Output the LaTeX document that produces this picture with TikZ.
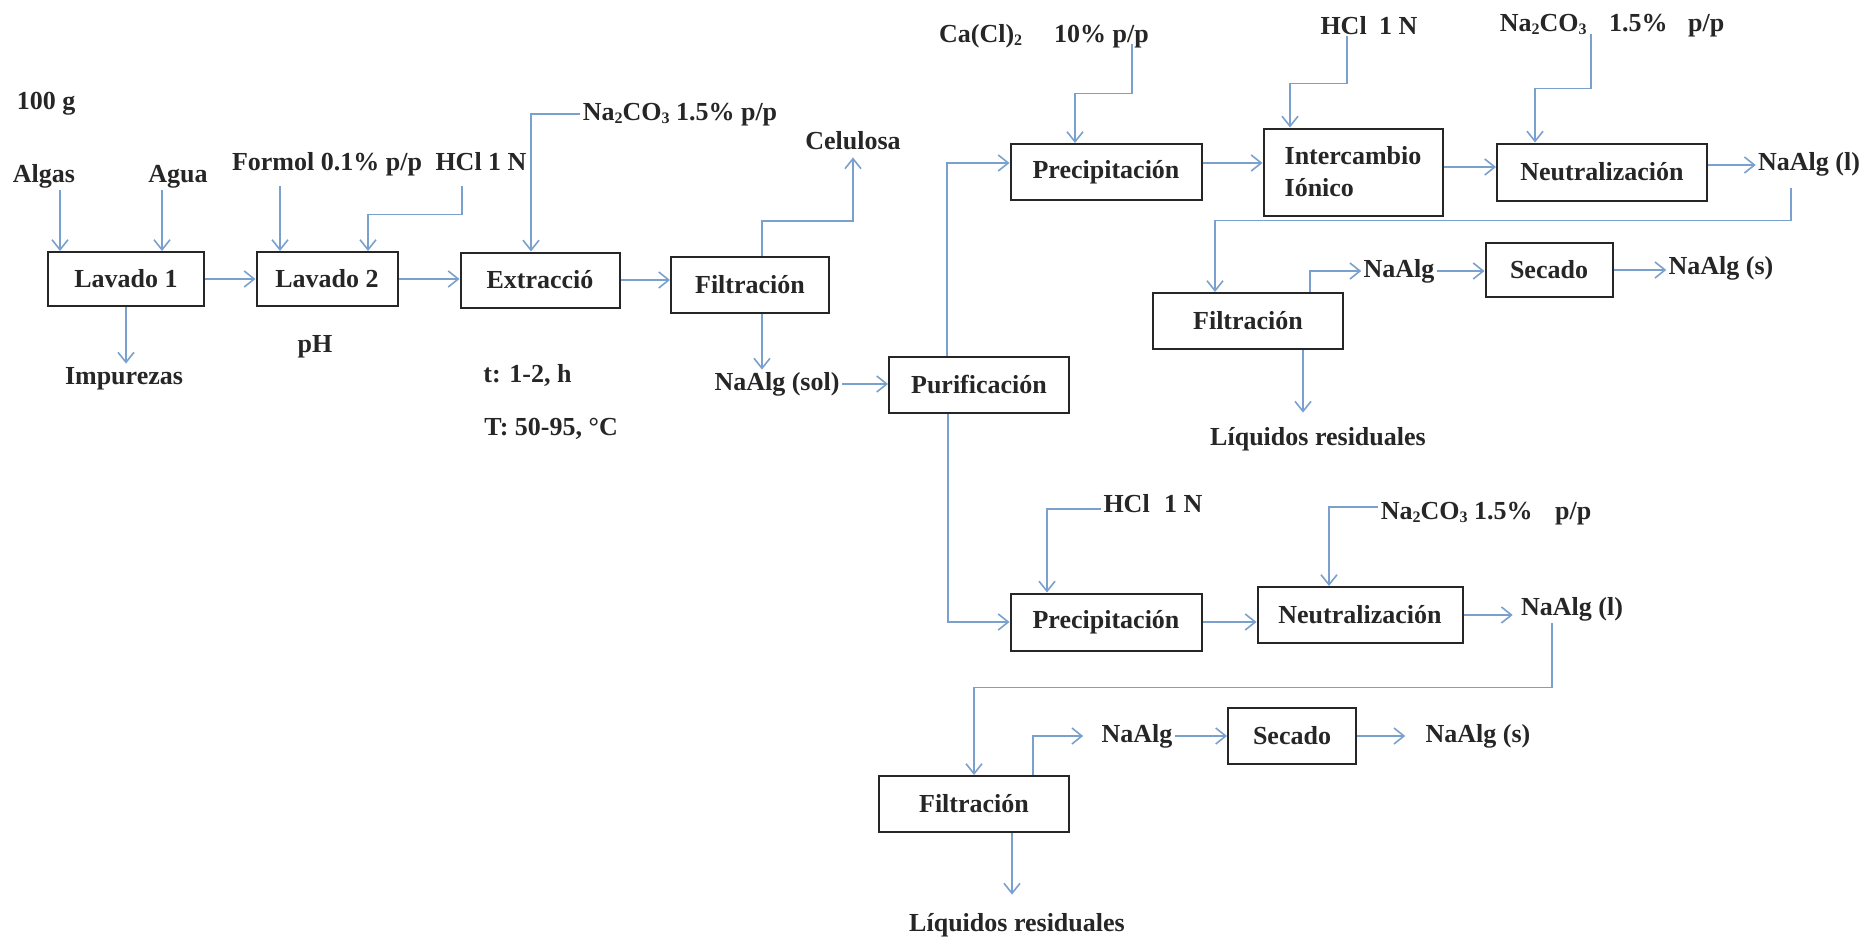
\documentclass[tikz,border=0pt]{standalone}
\usepackage{fontspec}
\setmainfont{Liberation Serif}
\usetikzlibrary{arrows.meta,positioning,calc}
\definecolor{pipe}{RGB}{122,160,206}
\definecolor{ink}{RGB}{38,38,38}
\newcommand{\subs}[1]{\raisebox{-1.5pt}{\fontsize{8}{8}\selectfont #1}}

\begin{document}
\begin{tikzpicture}[x=0.5pt,y=-0.5pt,
    font=\fontsize{13}{16}\selectfont\bfseries,
    unit/.style={draw=ink,line width=1pt,text=ink,minimum height=27pt,inner sep=2pt},
    lbl/.style={inner sep=1pt,text height=9pt,text depth=3pt,text=ink},
    flow/.style={draw=pipe,line width=0.8pt,-{Straight Barb[length=5pt,width=8pt]}}]
  \useasboundingbox (0,0) rectangle (1863,937);

  \node[unit,minimum width=78pt] (lav1) at (126,279) {Lavado 1};
  \node[unit,minimum width=70.5pt] (lav2) at (327,279) {Lavado 2};
  \node[unit,minimum width=79.5pt,minimum height=27.5pt] (ext) at (540,280) {Extracció};
  \node[unit,minimum width=79pt,minimum height=28pt] (filA) at (750,285) {Filtración};
  \node[unit,minimum width=90pt,minimum height=28pt] (pur) at (979,385) {Purificación};
  \node[unit,minimum width=95.5pt,minimum height=28pt] (preA) at (1106,172) {Precipitación};
  \node[unit,minimum width=89.5pt,minimum height=43.5pt,align=left] (inter) at (1353,172) {Intercambio\\Iónico};
  \node[unit,minimum width=105pt,minimum height=28.5pt] (neuA) at (1602,172) {Neutralización};
  \node[unit,minimum width=95pt,minimum height=28pt] (filB) at (1248,321) {Filtración};
  \node[unit,minimum width=63.5pt] (secA) at (1549,270) {Secado};
  \node[unit,minimum width=95.5pt,minimum height=28.5pt] (preB) at (1106,622) {Precipitación};
  \node[unit,minimum width=102.5pt,minimum height=28pt] (neuB) at (1360,615) {Neutralización};
  \node[unit,minimum width=95pt,minimum height=28pt] (filC) at (974,804) {Filtración};
  \node[unit,minimum width=64pt,minimum height=28pt] (secB) at (1292,736) {Secado};

  \node[lbl] (g100) at (46,103) {100 g};
  \node[lbl] (algas) at (44,176) {Algas};
  \node[lbl] (agua) at (178,176) {Agua};
  \node[lbl] (formol) at (327,164) {Formol 0.1\% p/p};
  \node[lbl] (hclA) at (481,164) {HCl 1 N};
  \node[lbl] (imp) at (124,378) {Impurezas};
  \node[lbl] (ph) at (315,346) {pH};
  \node[lbl] (naA) at (680,114) {Na\subs{2}CO\subs{3} 1.5\% p/p};
  \node[lbl] (cel) at (853,143) {Celulosa};
  \node[lbl,anchor=west] (tt) at (481,376) {t: 1-2, h};
  \node[lbl,anchor=west] (TT) at (482,429) {T: 50-95, °C};
  \node[lbl] (nasol) at (777,384) {NaAlg (sol)};
  \node[lbl] (ca) at (1044,36) {Ca(Cl)\subs{2}\hspace{16pt}10\% p/p};
  \node[lbl] (hclB) at (1369,28) {HCl\hspace{3pt} 1 N};
  \node[lbl] (naB) at (1612,26) {Na\subs{2}CO\subs{3}\hspace{8pt} 1.5\%\hspace{7pt} p/p};
  \node[lbl] (nalA) at (1809,164) {NaAlg (l)};
  \node[lbl] (nalgA) at (1399,271) {NaAlg};
  \node[lbl] (nasA) at (1721,268) {NaAlg (s)};
  \node[lbl] (liqA) at (1318,439) {Líquidos residuales};
  \node[lbl] (hclC) at (1153,506) {HCl\hspace{4pt} 1 N};
  \node[lbl] (naC) at (1486,513) {Na\subs{2}CO\subs{3} 1.5\%\hspace{8pt} p/p};
  \node[lbl] (nalB) at (1572,609) {NaAlg (l)};
  \node[lbl] (nalgB) at (1137,736) {NaAlg};
  \node[lbl] (nasB) at (1478,736) {NaAlg (s)};
  \node[lbl] (liqB) at (1017,925) {Líquidos residuales};

  \draw[flow] ([xshift=8pt]algas.south) -- ([xshift=8pt]algas.south |- lav1.north);
  \draw[flow] ([xshift=-8pt]agua.south) -- ([xshift=-8pt]agua.south |- lav1.north);
  \draw[flow] ([xshift=-23.5pt,yshift=-4pt]formol.south) -- ([xshift=-23.5pt]formol.south |- lav2.north);
  \draw[flow] ([xshift=-9.5pt,yshift=-4pt]hclA.south) -- ++(0,28) -| ([xshift=20.5pt]lav2.north);
  \draw[flow] (lav1.east) -- (lav2.west);
  \draw[flow] (lav2.east) -- (lav2.east -| ext.west);
  \draw[flow] (lav1.south) -- (lav1.south |- imp.north);
  \draw[flow] (naA.west) -| ([xshift=-4.5pt]ext.north);
  \draw[flow] (ext.east) -- (ext.east -| filA.west);
  \draw[flow] ([xshift=6pt]filA.north) -- ++(0,-35) -| (cel.south);
  \draw[flow] ([xshift=6pt]filA.south) -- ([xshift=6pt]filA.south |- nasol.north);
  \draw[flow] (nasol.east) -- (nasol.east -| pur.west);

  \draw[flow] ([xshift=-16pt]pur.north) |- ([yshift=4.5pt]preA.west);
  \draw[flow] ([xshift=44pt,yshift=3pt]ca.south) -- ++(0,49) -| ([xshift=-15.5pt]preA.north);
  \draw[flow] ([yshift=4.5pt]preA.east) -- ([yshift=4.5pt]preA.east -| inter.west);
  \draw[flow] ([xshift=-11pt,yshift=3pt]hclB.south) -- ++(0,47) -| ([xshift=-31.5pt]inter.north);
  \draw[flow] ([yshift=2.5pt]inter.east) -- ([yshift=2.5pt]inter.east -| neuA.west);
  \draw[flow] ([xshift=-10.5pt,yshift=3pt]naB.south) -- ++(0,54) -| ([xshift=-33.5pt]neuA.north);
  \draw[flow] ([yshift=3.5pt]neuA.east) -- ([yshift=3.5pt]neuA.east -| nalA.west);
  \draw[flow] ([xshift=-9pt,yshift=-5pt]nalA.south) -- ++(0,32) -| ([xshift=-16.5pt]filB.north);
  \draw[flow] ([xshift=31pt]filB.north) |- (nalgA.west);
  \draw[flow] (nalgA.east) -- (nalgA.east -| secA.west);
  \draw[flow] (secA.east) -- (secA.east -| nasA.west);
  \draw[flow] ([xshift=27.5pt]filB.south) -- ([xshift=27.5pt,yshift=6pt]filB.south |- liqA.north);

  \draw[flow] ([xshift=-15.5pt]pur.south) |- (preB.west);
  \draw[flow] ([yshift=-1.5pt]hclC.west) -| ([xshift=-29.5pt]preB.north);
  \draw[flow] (preB.east) -- (preB.east -| neuB.west);
  \draw[flow] ([yshift=3pt]naC.west) -| ([xshift=-15.5pt]neuB.north);
  \draw[flow] (neuB.east) -- ([xshift=-3pt]neuB.east -| nalB.west);
  \draw[flow] ([xshift=-10pt]nalB.south) -- ++(0,64) -| (filC.north);
  \draw[flow] ([xshift=29.5pt]filC.north) |- ([xshift=-8pt]nalgB.west);
  \draw[flow] (nalgB.east) -- (nalgB.east -| secB.west);
  \draw[flow] (secB.east) -- ([xshift=-9pt]secB.east -| nasB.west);
  \draw[flow] ([xshift=19pt]filC.south) -- ([xshift=19pt,yshift=8pt]filC.south |- liqB.north);
\end{tikzpicture}
\end{document}
